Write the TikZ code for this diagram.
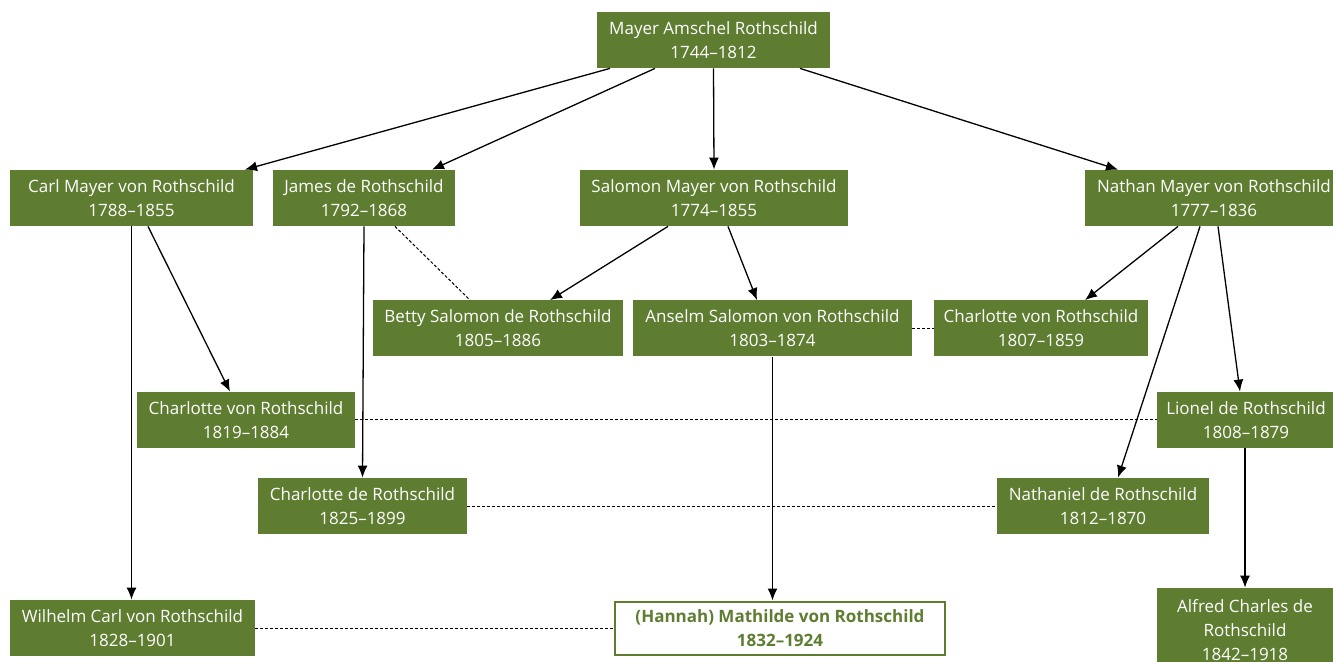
\documentclass[tikz,border=0pt]{standalone}
\usepackage{fontspec}
\setmainfont{Open Sans}
\usepackage{tikz}
\usetikzlibrary{arrows.meta, positioning, calc}
\definecolor{famgreen}{RGB}{94,125,49}

\begin{document}
\begin{tikzpicture}[
    x=0.5pt, y=-0.5pt,
    person/.style={rectangle, fill=famgreen, text=white, inner sep=0pt, minimum height=28pt, align=center, font=\fontsize{8.5}{12}\selectfont},
    heir/.style={person, fill=white, draw=famgreen, line width=1pt, text=famgreen, font=\fontsize{8.5}{12}\selectfont\bfseries},
    child/.style={-{Latex[length=6pt, width=5pt]}, line width=0.65pt},
    wed/.style={dashed, dash pattern=on 1.5pt off 1pt, line width=0.5pt}
]
    \clip (0,0) rectangle (1333,662);

    % Generation 1
    \node[person, minimum width=116.5pt] (mayer) at (713.5,40) {Mayer Amschel Rothschild\\1744–1812};

    % Generation 2
    \node[person, minimum width=121.5pt] (carl) at (131.5,198) {Carl Mayer von Rothschild\\1788–1855};
    \node[person, minimum width=91pt] (james) at (364,198) {James de Rothschild\\1792–1868};
    \node[person, minimum width=134pt] (salomon) at (714,198) {Salomon Mayer von Rothschild\\1774–1855};
    \node[person, minimum width=129pt] (nathan) at (1214,198) {Nathan Mayer von Rothschild\\1777–1836};

    % Generation 3
    \node[person, minimum width=125pt] (betty) at (498,328.5) {Betty Salomon de Rothschild\\1805–1886};
    \node[person, minimum width=139.5pt] (anselm) at (772.5,328.5) {Anselm Salomon von Rothschild\\1803–1874};
    \node[person, minimum width=107pt] (charlotteA) at (1041,328.5) {Charlotte von Rothschild\\1807–1859};
    \node[person, minimum width=109pt] (charlotteB) at (246,420) {Charlotte von Rothschild\\1819–1884};
    \node[person, minimum width=89pt] (lionel) at (1246,420) {Lionel de Rothschild\\1808–1879};
    \node[person, minimum width=104.5pt] (charlotteC) at (362.5,506) {Charlotte de Rothschild\\1825–1899};
    \node[person, minimum width=106pt] (nathaniel) at (1103,506) {Nathaniel de Rothschild\\1812–1870};

    % Generation 4
    \node[person, minimum width=122.5pt] (wilhelm) at (132.5,628) {Wilhelm Carl von Rothschild\\1828–1901};
    \node[heir, minimum width=165pt, minimum height=26.5pt] (mathilde) at (780,628) {(Hannah) Mathilde von Rothschild\\1832–1924};
    \node[person, minimum width=88pt, minimum height=42pt] (alfred) at (1245,630) {Alfred Charles de\\Rothschild\\1842–1918};

    % Descent
    \draw[child] ($(mayer.south)+(-103.5,0)$) -- ($(carl.north)+(113.5,0)$);
    \draw[child] ($(mayer.south)+(-58.5,0)$) -- ($(james.north)+(68,0)$);
    \draw[child] (mayer.south) -- (salomon.north);
    \draw[child] ($(mayer.south)+(86.5,0)$) -- ($(nathan.north)+(-96,0)$);
    \draw[child] (carl.south) -- (wilhelm.north -| carl.south);
    \draw[child] ($(carl.south)+(16.5,0)$) -- ($(charlotteB.north)+(-16,0)$);
    \draw[child] (james.south) -- (charlotteC.north);
    \draw[child] ($(salomon.south)+(-46,0)$) -- ($(betty.north)+(52,0)$);
    \draw[child] ($(salomon.south)+(14,0)$) -- ($(anselm.north)+(-15.5,0)$);
    \draw[child] (anselm.south) -- (mathilde.north -| anselm.south);
    \draw[child] ($(nathan.south)+(-36,0)$) -- ($(charlotteA.north)+(44,0)$);
    \draw[child] ($(nathan.south)+(-14,0)$) -- ($(nathaniel.north)+(15,0)$);
    \draw[child] ($(nathan.south)+(4,0)$) -- ($(lionel.north)+(-6,0)$);
    \draw[child] (lionel.south -| alfred.north) -- (alfred.north);

    % Marriages
    \draw[wed] ($(james.south)+(31,0)$) -- ($(betty.north)+(-28,0)$);
    \draw[wed] (anselm.east) -- (charlotteA.west);
    \draw[wed] (charlotteB.east) -- (lionel.west);
    \draw[wed] (charlotteC.east) -- (nathaniel.west);
    \draw[wed] (wilhelm.east) -- (mathilde.west);
\end{tikzpicture}
\end{document}
